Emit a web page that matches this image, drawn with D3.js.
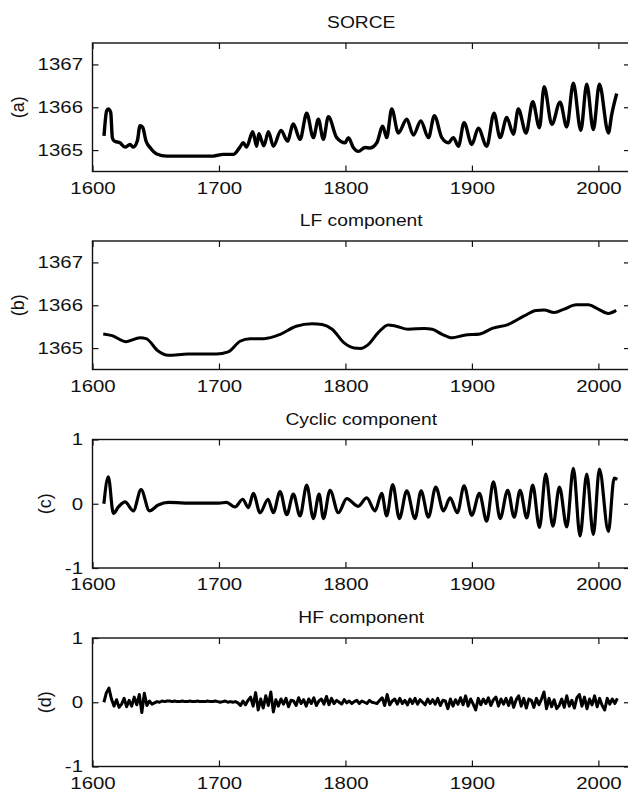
<!DOCTYPE html>
<html>
<head>
<meta charset="utf-8">
<style>
  body { margin: 0; background: #fff; }
  svg text { font-family: "Liberation Sans", Arial, sans-serif; fill: #111; }
</style>
</head>
<body>
<svg id="chart" width="628" height="793"></svg>
<script src="https://d3js.org/d3.v7.min.js"></script>
<script>
    var sorceYears = [1609.1, 1611.2, 1612.5, 1614.4, 1615.7, 1617.3, 1621.7, 1625.7, 1629.7, 1632.3,
        1635.4, 1637.6, 1639.7, 1642.3, 1645.5, 1650.8, 1658.7, 1677.1, 1695.5, 1703.4,
        1711.3, 1716.6, 1719.2, 1721.8, 1726.7, 1729.8, 1731.5, 1733.8, 1735.5, 1739.1,
        1743, 1749.1, 1754.1, 1758.8, 1764.1, 1769.4, 1774.6, 1778.6, 1782.5, 1786.5,
        1793.1, 1799.7, 1802.3, 1806.2, 1810.2, 1815.5, 1819.5, 1824.8, 1829.5, 1832.6,
        1836.6, 1841.8, 1848.5, 1853.7, 1859.6, 1865.6, 1870.3, 1876.2, 1881.4, 1885.3,
        1889.3, 1893.8, 1899.9, 1905.1, 1911.7, 1917.5, 1922.3, 1927.6, 1932.8, 1936.7,
        1942.8, 1948.1, 1953.4, 1957.1, 1963.2, 1969.7, 1975, 1980.2, 1986.1, 1990.8,
        1996, 2000.8, 2007.9, 2010.6, 2014.5];
    var sorceVals = [1365.33, 1365.92, 1365.96, 1365.88, 1365.29, 1365.21, 1365.17, 1365.07, 1365.13, 1365.07,
        1365.21, 1365.57, 1365.53, 1365.21, 1365.06, 1364.91, 1364.86, 1364.86, 1364.86, 1364.90,
        1364.90, 1365.07, 1365.17, 1365.07, 1365.43, 1365.09, 1365.38, 1365.21, 1365.10, 1365.43,
        1365.09, 1365.46, 1365.21, 1365.61, 1365.25, 1365.86, 1365.29, 1365.72, 1365.25, 1365.78,
        1365.29, 1365.17, 1365.29, 1365.06, 1364.97, 1365.06, 1365.05, 1365.17, 1365.56, 1365.29,
        1365.96, 1365.40, 1365.72, 1365.35, 1365.68, 1365.29, 1365.80, 1365.29, 1365.17, 1365.29,
        1365.09, 1365.64, 1365.13, 1365.51, 1365.09, 1365.86, 1365.29, 1365.76, 1365.37, 1365.96,
        1365.40, 1366.13, 1365.52, 1366.48, 1365.60, 1366.12, 1365.54, 1366.56, 1365.46, 1366.54,
        1365.48, 1366.54, 1365.40, 1365.84, 1366.32];

    // (b) LF component
    var lfYears = [1608.5, 1615.5, 1626.6, 1637.6, 1642.4, 1651.9, 1659.8, 1675.6, 1697.8, 1707.2,
        1716.7, 1724.6, 1735.7, 1748.4, 1761, 1773.7, 1781.6, 1789.5, 1799, 1806.9,
        1811.6, 1818, 1825.9, 1833.8, 1840.1, 1849.6, 1862.3, 1868.6, 1876.5, 1884.4,
        1893.9, 1906.5, 1916, 1928.6, 1941.3, 1950.8, 1957.1, 1965, 1973, 1982.5,
        1992, 1999.9, 2007.8, 2014.1];
    var lfVals = [1365.33, 1365.29, 1365.15, 1365.24, 1365.22, 1364.93, 1364.83, 1364.86, 1364.86, 1364.91,
        1365.16, 1365.22, 1365.22, 1365.32, 1365.51, 1365.57, 1365.55, 1365.44, 1365.12, 1365.00,
        1364.99, 1365.08, 1365.36, 1365.54, 1365.51, 1365.44, 1365.46, 1365.44, 1365.32, 1365.24,
        1365.30, 1365.33, 1365.46, 1365.55, 1365.75, 1365.88, 1365.89, 1365.83, 1365.91, 1366.01,
        1366.01, 1365.91, 1365.81, 1365.88];

    // (c) cyclic component, maxima and minima of each cycle
    var cycYears = [1609, 1612.5, 1616.5, 1620.5, 1625.7, 1632.3, 1638.4, 1645, 1652, 1660,
        1680, 1700, 1706, 1712.7, 1718.8, 1723.2, 1727.2, 1732.5, 1738.8, 1743,
        1748.3, 1753.6, 1758.8, 1764.1, 1769.4, 1774.6, 1779.2, 1782.6, 1787.8, 1794.4,
        1801, 1810, 1816.8, 1823.4, 1828.7, 1832.6, 1837.4, 1842.6, 1848.5, 1855,
        1859.8, 1865.6, 1871.4, 1877.5, 1882.7, 1888.5, 1893.8, 1899.9, 1905.9, 1911.7,
        1917, 1922.3, 1928.3, 1933.4, 1938.1, 1943.4, 1948.1, 1953.4, 1958.4, 1964,
        1969.2, 1975, 1980.2, 1985.5, 1990.8, 1996, 2000.8, 2007.9, 2012.5, 2015];
    var cycVals = [0.00, 0.42, -0.15, -0.05, 0.03, -0.11, 0.22, -0.11, -0.02, 0.02,
        0.01, 0.01, 0.02, -0.05, 0.07, -0.06, 0.16, -0.14, 0.07, -0.14,
        0.19, -0.17, 0.15, -0.19, 0.29, -0.23, 0.15, -0.23, 0.21, -0.14,
        0.08, -0.04, 0.09, -0.11, 0.16, -0.19, 0.30, -0.23, 0.20, -0.23,
        0.20, -0.21, 0.26, -0.11, 0.09, -0.14, 0.28, -0.18, 0.16, -0.27,
        0.34, -0.23, 0.21, -0.21, 0.21, -0.22, 0.29, -0.37, 0.46, -0.35,
        0.26, -0.36, 0.55, -0.50, 0.46, -0.48, 0.54, -0.43, 0.40, 0.38];

    // (d) HF component, one value every 2 years from 1609 to 2015
    var hfFirst = 1609, hfStep = 2;
    var hfVals = [
        0.00, 0.15, 0.22, 0.05, -0.06, 0.04, -0.08, -0.03, 0.06, -0.07,   // 1609-1627
        0.03, -0.06, 0.08, -0.04, 0.12, -0.16, 0.14, -0.05, 0.02, -0.03,  // 1629-1647
        -0.01, 0.01, 0.00, 0.02, 0.01, 0.02, 0.02, 0.01, 0.02, 0.01,      // 1649-1667
        0.01, 0.02, 0.01, 0.01, 0.02, 0.01, 0.01, 0.02, 0.01, 0.01,       // 1669-1687
        0.01, 0.02, 0.01, 0.01, 0.02, 0.01, 0.00, 0.01, 0.02, 0.00,       // 1689-1707
        0.01, 0.00, 0.01, -0.01, -0.05, 0.02, -0.04, 0.03, 0.08, -0.06,   // 1709-1727
        0.15, -0.12, 0.05, -0.09, 0.10, -0.05, 0.16, -0.15, 0.04, -0.06,  // 1729-1747
        0.05, -0.03, 0.06, -0.07, 0.03, 0.02, -0.05, 0.07, -0.02, 0.04,   // 1749-1767
        -0.06, 0.05, -0.02, 0.07, -0.05, 0.02, 0.05, -0.03, 0.09, -0.04,  // 1769-1787
        0.06, -0.02, 0.03, 0.00, -0.03, 0.04, -0.01, 0.02, -0.02, 0.01,   // 1789-1807
        0.03, -0.02, 0.02, 0.00, -0.02, 0.03, 0.00, -0.01, -0.02, 0.03,   // 1809-1827
        0.07, -0.05, 0.12, -0.04, 0.02, 0.05, -0.03, 0.06, -0.02, 0.03,   // 1829-1847
        -0.04, 0.05, -0.02, 0.06, -0.03, 0.04, 0.00, -0.04, 0.05, -0.02,  // 1849-1867
        0.04, -0.03, 0.06, -0.05, 0.03, 0.02, -0.10, 0.05, -0.06, 0.04,   // 1869-1887
        -0.03, 0.07, -0.04, 0.10, -0.06, 0.05, -0.03, -0.12, 0.06, -0.04, // 1889-1907
        0.05, -0.02, 0.07, -0.05, 0.04, 0.08, -0.06, 0.05, -0.03, 0.06,   // 1909-1927
        -0.05, 0.07, -0.08, 0.04, 0.10, -0.06, 0.06, -0.09, 0.05, 0.03,   // 1929-1947
        -0.08, 0.06, -0.04, 0.05, 0.16, -0.10, 0.06, -0.07, 0.04, -0.10,  // 1949-1967
        -0.05, 0.05, -0.08, 0.10, -0.06, 0.03, -0.09, 0.07, 0.12, -0.06,  // 1969-1987
        0.08, -0.10, 0.05, -0.04, 0.10, -0.07, 0.06, -0.05, -0.12, 0.06,  // 1989-2007
        -0.03, 0.05, -0.02, 0.06                                          // 2009-2015
    ];
    var hfYears = hfVals.map(function (d, i) { return hfFirst + i * hfStep; });

    var xTicks = [1600, 1700, 1800, 1900, 2000],
        tsiTicks = [1365, 1366, 1367],
        unitTicks = [-1, 0, 1],
        titles = ['SORCE', 'LF component', 'Cyclic component', 'HF component'],
        tags = ['(a)', '(b)', '(c)', '(d)'];

    var left = 92.5, right = 630, plotH = 128.5,
        tops = [43, 241, 439.5, 638],
        tickLen = 6,
        squeeze = 1.2; // the figure text is drawn a bit wider than normal

    var panels = [
        {years: sorceYears, vals: sorceVals, domain: [1364.5, 1367.5], ticks: tsiTicks, lw: 3.4, curve: d3.curveMonotoneX},
        {years: lfYears, vals: lfVals, domain: [1364.5, 1367.5], ticks: tsiTicks, lw: 3, curve: d3.curveMonotoneX},
        {years: cycYears, vals: cycVals, domain: [-1, 1], ticks: unitTicks, lw: 3.2, curve: d3.curveMonotoneX},
        {years: hfYears, vals: hfVals, domain: [-1, 1], ticks: unitTicks, lw: 3, curve: d3.curveLinear}
    ];

    var svg = d3.select('#chart');

    var x = d3.scaleLinear()
        .domain([1600, 2025])
        .range([0, right - left]);

    function stretch(sel, k) {
        sel.each(function () {
            var w = this.getComputedTextLength();
            d3.select(this)
                .attr('textLength', w * k)
                .attr('lengthAdjust', 'spacingAndGlyphs');
        });
    }

    function tidy(axis) {
        axis.select('.domain').remove();
        axis.selectAll('.tick line').attr('stroke', '#111').attr('stroke-width', 1.2);
        axis.attr('font-size', 17).attr('font-family', null);
        axis.selectAll('text').attr('fill', '#111');
    }

    panels.forEach(function (p, i) {
        var y = d3.scaleLinear()
            .domain(p.domain)
            .range([plotH, 0]);

        var g = svg.append('g')
            .attr('transform', 'translate(' + left + ',' + tops[i] + ')');

        var line = d3.line()
            .x(function (d) { return x(d[0]); })
            .y(function (d) { return y(d[1]); })
            .curve(p.curve);

        g.append('path')
            .datum(d3.zip(p.years, p.vals))
            .attr('d', line)
            .attr('fill', 'none')
            .attr('stroke', '#000')
            .attr('stroke-width', p.lw)
            .attr('stroke-linejoin', 'round');

        // bottom / top x ticks, pointing in
        var xb = g.append('g')
            .attr('transform', 'translate(0,' + plotH + ')')
            .call(d3.axisBottom(x).tickValues(xTicks).tickSize(-tickLen).tickPadding(10)
                .tickFormat(d3.format('d')));
        tidy(xb);
        stretch(xb.selectAll('text'), squeeze);

        var xt = g.append('g')
            .call(d3.axisTop(x).tickValues(xTicks).tickSize(-tickLen).tickFormat(''));
        tidy(xt);

        // left / right y ticks
        var yl = g.append('g')
            .call(d3.axisLeft(y).tickValues(p.ticks).tickSize(-tickLen).tickPadding(9.5)
                .tickFormat(function (d) { return String(d); }));
        tidy(yl);
        stretch(yl.selectAll('text'), squeeze);

        var yr = g.append('g')
            .attr('transform', 'translate(' + (right - left) + ',0)')
            .call(d3.axisRight(y).tickValues(p.ticks).tickSize(-tickLen).tickFormat(''));
        tidy(yr);

        g.append('rect')
            .attr('width', right - left)
            .attr('height', plotH)
            .attr('fill', 'none')
            .attr('stroke', '#111')
            .attr('stroke-width', 1.4);

        // panel tag sits left of the widest y tick label
        var minX = d3.min(yl.selectAll('text').nodes(), function (n) { return n.getBBox().x; });
        g.append('text')
            .attr('transform', 'translate(' + (minX - 20) + ',' + (plotH / 2) + ') rotate(-90)')
            .attr('text-anchor', 'middle')
            .attr('dy', '0.35em')
            .attr('font-size', 18)
            .text(tags[i]);

        var t = svg.append('text')
            .attr('x', (left + right) / 2)
            .attr('y', tops[i] - 15)
            .attr('text-anchor', 'middle')
            .attr('font-size', 16)
            .text(titles[i]);
        stretch(t, squeeze);
    });
</script>
</body>
</html>
